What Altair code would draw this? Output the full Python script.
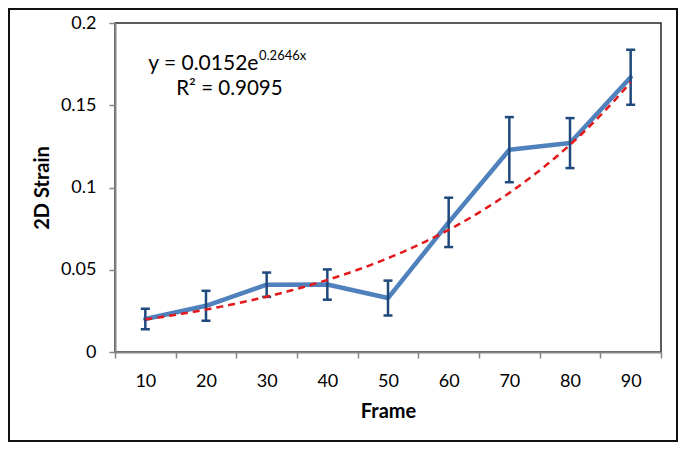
import altair as alt
import pandas as pd

# ---- data ----
frames = [10, 20, 30, 40, 50, 60, 70, 80, 90]
strain = [0.0201, 0.0281, 0.0409, 0.0410, 0.0328, 0.0788, 0.1230, 0.1270, 0.1670]
err = [0.0062, 0.0091, 0.0074, 0.0092, 0.0106, 0.0150, 0.0198, 0.0152, 0.0167]

x_tick_values = [5, 10, 15, 20, 25, 30, 35, 40, 45, 50, 55, 60, 65, 70, 75, 80, 85, 90, 95]
y_tick_values = [0, 0.05, 0.1, 0.15, 0.2]

eq_main = "y = 0.0152e"
eq_sup = "0.2646x"
r2_text = "R² = 0.9095"
x_title = "Frame"
y_title = "2D Strain"

df = pd.DataFrame({"Frame": frames, "Strain": strain, "Err": err})
df["lo"] = df["Strain"] - df["Err"]
df["hi"] = df["Strain"] + df["Err"]

FONT = "Lato"
W, H = 546, 329

x_axis = alt.Axis(
    values=x_tick_values,
    labelExpr="datum.value % 10 === 0 ? datum.label : ''",
    tickOpacity={"condition": {"test": "datum.value % 10 === 0", "value": 0}, "value": 1},
    labelOverlap=False, labelFlush=False, labelBound=False,
    tickSize=6, labelPadding=14, grid=False,
    titleX=W / 2, titleY=59, titleBaseline="middle", titleAlign="center",
)
y_axis = alt.Axis(
    values=y_tick_values, format="~g",
    tickSize=6, labelPadding=13, grid=False,
    titleX=-73, titleY=H / 2, titleBaseline="middle", titleAlign="center", titleAngle=270,
)

xs = alt.Scale(domain=[5, 95], nice=False, zero=False)
ys = alt.Scale(domain=[0, 0.2], nice=False)

X = alt.X("Frame:Q", scale=xs, axis=x_axis, title=x_title)


def Y(field):
    return alt.Y(field, scale=ys, axis=y_axis, title=y_title)


base = alt.Chart(df)

line = base.mark_line(color="#4F81BD", strokeWidth=4.5, strokeJoin="round", strokeCap="round").encode(
    x=X, y=Y("Strain:Q")
)
rules = base.mark_rule(color="#1F497D", strokeWidth=2.5).encode(x=X, y=Y("lo:Q"), y2="hi:Q")
cap_lo = base.mark_tick(color="#1F497D", orient="horizontal", size=9, thickness=2.5, opacity=1).encode(
    x=X, y=Y("lo:Q")
)
cap_hi = base.mark_tick(color="#1F497D", orient="horizontal", size=9, thickness=2.5, opacity=1).encode(
    x=X, y=Y("hi:Q")
)

# Excel-style exponential trendline: least squares on ln(y), evaluated on a fine grid
trend = (
    base.transform_calculate(ly="log(datum.Strain)")
    .transform_joinaggregate(mx="mean(Frame)", my="mean(ly)", x0="min(Frame)", x1="max(Frame)")
    .transform_calculate(
        sxy="(datum.Frame - datum.mx) * (datum.ly - datum.my)",
        sxx="(datum.Frame - datum.mx) * (datum.Frame - datum.mx)",
    )
    .transform_joinaggregate(Sxy="sum(sxy)", Sxx="sum(sxx)")
    .transform_filter("datum.Frame === datum.x0")
    .transform_calculate(
        b="datum.Sxy / datum.Sxx",
        grid="sequence(datum.x0, datum.x1 + 0.25, 0.5)",
    )
    .transform_calculate(a="datum.my - datum.b * datum.mx")
    .transform_flatten(["grid"])
    .transform_calculate(fit="exp(datum.a + datum.b * datum.grid)")
    .mark_line(color="#E3191C", strokeDash=[7, 5], strokeWidth=2.5)
    .encode(x=alt.X("grid:Q", scale=xs, axis=x_axis, title=x_title), y=Y("fit:Q"))
)

txt_main = alt.Chart(pd.DataFrame({"t": [eq_main]})).mark_text(
    align="right", baseline="alphabetic", fontSize=21, font=FONT, color="black"
).encode(x=alt.value(143.4), y=alt.value(46.5), text="t:N")
txt_sup = alt.Chart(pd.DataFrame({"t": [eq_sup]})).mark_text(
    align="left", baseline="alphabetic", fontSize=13, font=FONT, color="black"
).encode(x=alt.value(144), y=alt.value(36.5), text="t:N")
txt_r2 = alt.Chart(pd.DataFrame({"t": [r2_text]})).mark_text(
    align="center", baseline="alphabetic", fontSize=20.5, font=FONT, color="black"
).encode(x=alt.value(114.4), y=alt.value(72), text="t:N")

frame = alt.Chart(pd.DataFrame({"k": [1]})).mark_rect(
    fillOpacity=0, stroke="#111111", strokeWidth=2
).encode(x=alt.value(-106), x2=alt.value(562), y=alt.value(-14), y2=alt.value(418))

chart = alt.layer(line, rules, cap_lo, cap_hi, trend, txt_main, txt_sup, txt_r2, frame).properties(
    width=W, height=H,
    autosize=alt.AutoSizeParams(type="none"),
    padding={"left": 107, "top": 15, "right": 17, "bottom": 90},
).configure(font=FONT).configure_view(
    stroke="#262626", strokeWidth=1.5
).configure_axis(
    domainColor="#868686", domainWidth=2, tickColor="#868686", tickWidth=1.5,
    labelFont=FONT, labelFontSize=18, labelColor="black",
    titleFont=FONT, titleFontSize=20, titleFontWeight="bold", titleColor="black",
)

chart.save("out.html", embed_options={"renderer": "svg", "actions": False})
